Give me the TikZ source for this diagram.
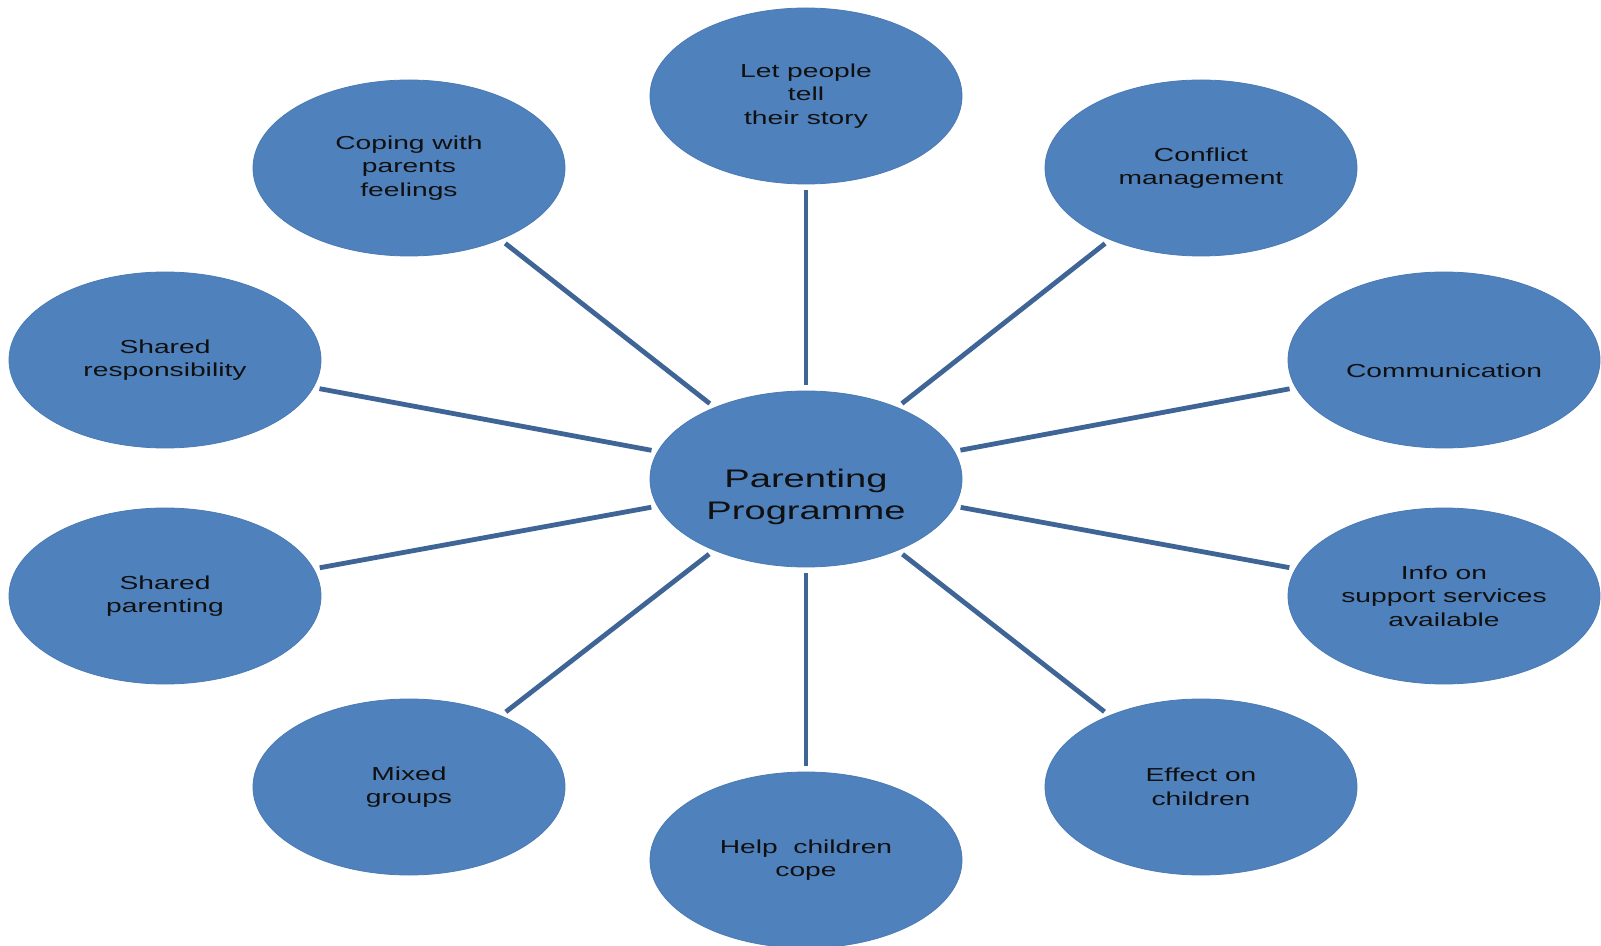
\documentclass[tikz,border=0pt]{standalone}
\usepackage{fontspec}
\setmainfont{Liberation Sans}[FakeStretch=1.5]
\usetikzlibrary{shapes.geometric}
\definecolor{bubble}{HTML}{4F81BD}
\definecolor{spoke}{HTML}{3F6597}
\definecolor{ink}{HTML}{101010}
\tikzset{
  bubble/.style={ellipse, fill=bubble, draw=bubble!95!black, line width=0.4pt,
    minimum width=156pt, minimum height=88pt, inner sep=0pt, align=center,
    text=ink, font=\fontsize{9.4}{11.75}\selectfont},
  label/.style={text=ink, align=center, inner sep=0pt},
  spokeline/.style={draw=spoke, line width=2.4pt, shorten <=3pt, shorten >=3pt}
}
\begin{document}
\begin{tikzpicture}[x=0.5pt, y=-0.5pt]
\useasboundingbox (0,0) rectangle (1601,946);
\node[bubble] (c) at (806,479) {};
\node[label, font=\fontsize{12.7}{15.8}\selectfont] (ct) at (806,497) {Parenting\\Programme};
\node[bubble] (t) at (806,96) {Let people\\tell\\their story};
\node[bubble] (tl) at (409,168) {Coping with\\parents\\feelings};
\node[bubble] (tr) at (1201,168) {Conflict\\management};
\node[bubble] (l1) at (165,360) {Shared\\responsibility};
\node[bubble] (r1) at (1444,360) {};
\node[label, font=\fontsize{9.4}{11.75}\selectfont] (r1t) at (1444,371) {Communication};
\node[bubble] (l2) at (165,596) {Shared\\parenting};
\node[bubble] (r2) at (1444,596) {Info on\\support services\\available};
\node[bubble] (bl) at (409,787) {Mixed\\groups};
\node[bubble] (br) at (1201,787) {Effect on\\children};
\node[bubble] (b) at (806,860) {Help~ children\\cope};
\foreach \n in {t,tl,tr,l1,r1,l2,r2,bl,br,b}
  \draw[spokeline] (c) -- (\n);
\end{tikzpicture}
\end{document}
